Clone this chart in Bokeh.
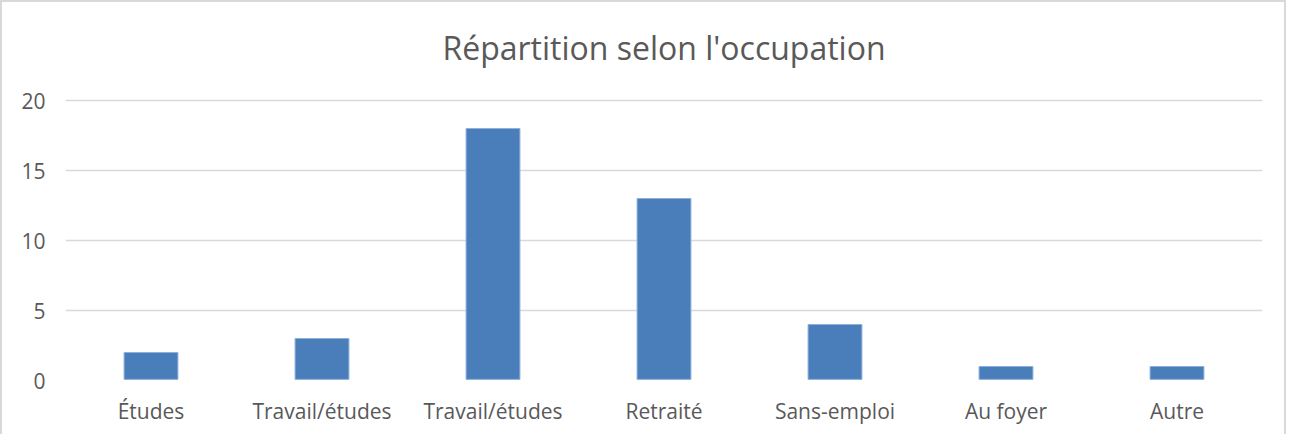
from bokeh.plotting import figure
from bokeh.models import FixedTicker, Range1d, Label
from bokeh.embed import file_html
from bokeh.resources import INLINE

title = "Répartition selon l'occupation"
categories = ["Études", "Travail/études", "Travail/études", "Retraité", "Sans-emploi", "Au foyer", "Autre"]
values = [2, 3, 18, 13, 4, 1, 1]
y_ticks = [0, 5, 10, 15, 20]

xs = list(range(len(categories)))

# frame extends above the top tick so the title can sit inside it (14 px per unit)
p = figure(width=1286, height=434, output_backend="svg", toolbar_location=None,
           x_range=Range1d(-0.5, len(categories) - 0.5), y_range=Range1d(0, max(y_ticks) + 7),
           min_border_left=63, min_border_right=26, min_border_top=0, min_border_bottom=56)
p.styles = {"border-top": "2px solid #d9d9d9", "border-left": "2px solid #d9d9d9",
            "border-right": "2px solid #d9d9d9"}

p.vbar(x=xs, top=values, width=0.315, bottom=0.08, fill_color="#4a7ebb",
       line_color="#8fb0db", line_width=1)

p.add_layout(Label(x=(len(categories) - 1) / 2, y=max(y_ticks) + 3.8, text=title,
                   text_align="center", text_baseline="middle",
                   text_font="Open Sans", text_font_size="32px", text_color="#595959"))

p.xaxis.ticker = FixedTicker(ticks=xs)
p.xaxis.major_label_overrides = {i: c for i, c in enumerate(categories)}
p.yaxis.ticker = FixedTicker(ticks=y_ticks)

for ax in (p.xaxis, p.yaxis):
    ax.axis_line_color = None
    ax.major_tick_line_color = None
    ax.minor_tick_line_color = None
    ax.major_label_text_font = "Open Sans"
    ax.major_label_text_font_size = "21px"
    ax.major_label_text_color = "#595959"
p.xaxis.major_label_standoff = 10
p.yaxis.major_label_standoff = 14

p.xgrid.grid_line_color = None
p.ygrid.grid_line_color = "#d9d9d9"
p.ygrid.grid_line_width = 1.6
p.outline_line_color = None

open("out.html", "w").write(file_html(p, INLINE))
